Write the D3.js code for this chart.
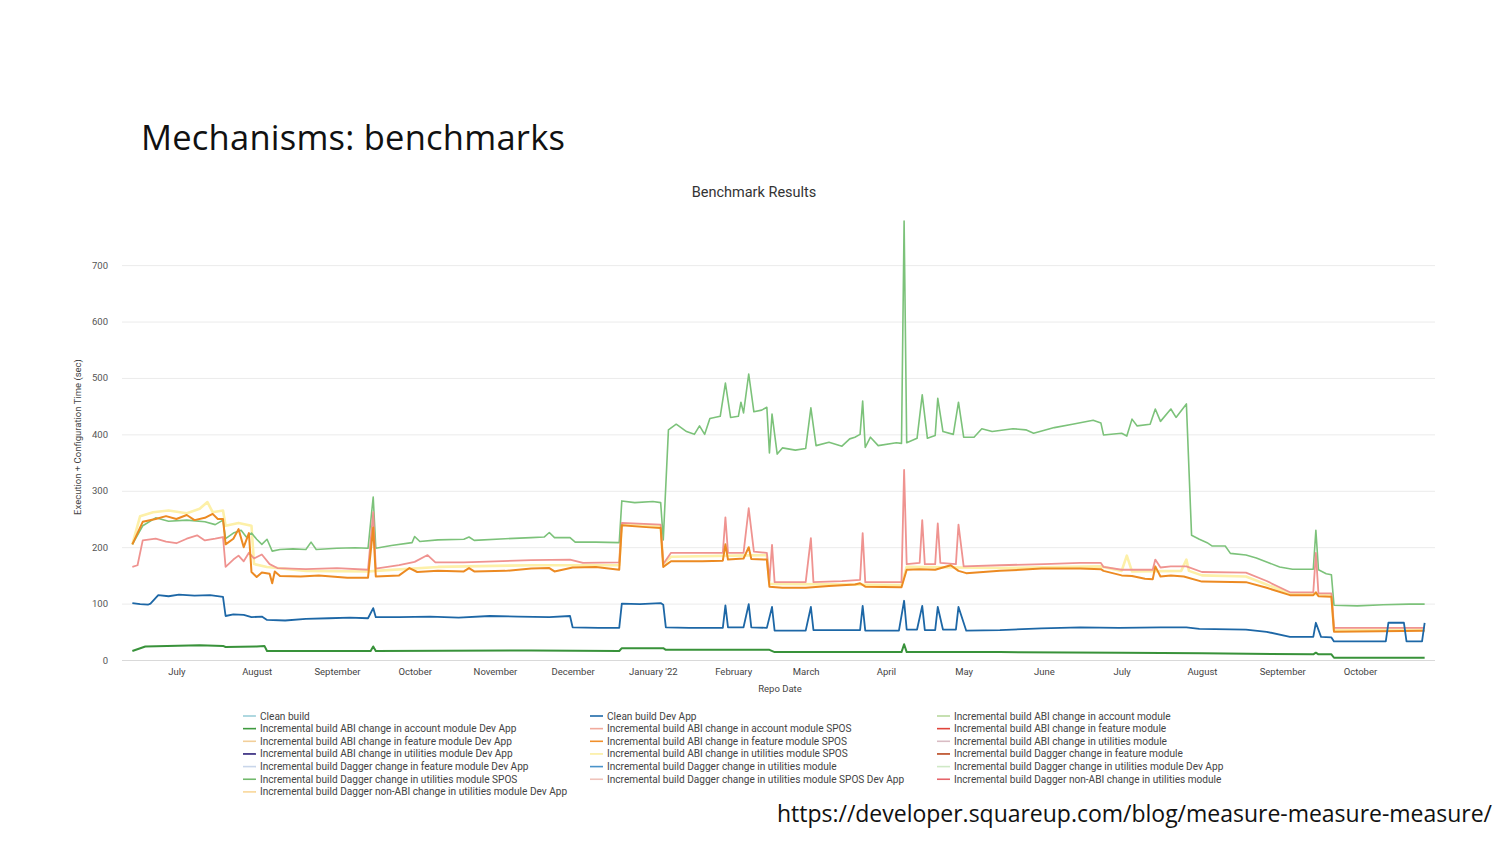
<!DOCTYPE html>
<html><head><meta charset="utf-8">
<script src="https://cdn.jsdelivr.net/npm/d3@7/dist/d3.min.js"></script>
<style>
html,body{margin:0;padding:0;background:#fff;}
svg{display:block;}
</style></head>
<body>
<svg id="chart" width="1500" height="844"></svg>
<script>
// ---------- DATA ----------
const slideTitle = "Mechanisms: benchmarks";
const chartTitle = "Benchmark Results";
const yAxisLabel = "Execution + Configuration Time (sec)";
const xAxisLabel = "Repo Date";
const sourceUrl = "https://developer.squareup.com/blog/measure-measure-measure/";
const yTicks = [0, 100, 200, 300, 400, 500, 600, 700];
const xTickDates = ["2021-07-01","2021-08-01","2021-09-01","2021-10-01","2021-11-01","2021-12-01",
  "2022-01-01","2022-02-01","2022-03-01","2022-04-01","2022-05-01","2022-06-01","2022-07-01",
  "2022-08-01","2022-09-01","2022-10-01"];
const xTickLabels = ["July","August","September","October","November","December","January '22",
  "February","March","April","May","June","July","August","September","October"];

const legendNames = [
  "Clean build",
  "Incremental build ABI change in account module Dev App",
  "Incremental build ABI change in feature module Dev App",
  "Incremental build ABI change in utilities module Dev App",
  "Incremental build Dagger change in feature module Dev App",
  "Incremental build Dagger change in utilities module SPOS",
  "Incremental build Dagger non-ABI change in utilities module Dev App",
  "Clean build Dev App",
  "Incremental build ABI change in account module SPOS",
  "Incremental build ABI change in feature module SPOS",
  "Incremental build ABI change in utilities module SPOS",
  "Incremental build Dagger change in utilities module",
  "Incremental build Dagger change in utilities module SPOS Dev App",
  "Incremental build ABI change in account module",
  "Incremental build ABI change in feature module",
  "Incremental build ABI change in utilities module",
  "Incremental build Dagger change in feature module",
  "Incremental build Dagger change in utilities module Dev App",
  "Incremental build Dagger non-ABI change in utilities module"
];
const legendColors = [
  "#9ccfd9","#3f9a3f","#f2cf9a","#2b1f78","#c9d6ea","#72b96c","#f9d79a",
  "#1f6aa8","#f1aa9c","#f08f2a","#fbeea0","#4a93c9","#efc3bb",
  "#b8d99e","#e0443a","#d9bcc4","#b9461d","#cfe9c6","#e5646a"
];

// series values: [date, seconds]
const daggerUtilSPOS = [
["2021-06-14",205],["2021-06-18",238],["2021-06-23",252],["2021-06-28",246],["2021-07-05",248],["2021-07-12",245],
["2021-07-16",240],["2021-07-19",248],["2021-07-20",215],["2021-07-23",225],["2021-07-26",230],["2021-07-28",218],
["2021-07-30",225],["2021-08-01",214],["2021-08-03",205],["2021-08-05",214],["2021-08-07",193],["2021-08-10",196],
["2021-08-15",197],["2021-08-20",196],["2021-08-22",209],["2021-08-24",196],["2021-09-01",198],["2021-09-08",199],
["2021-09-13",198],["2021-09-15",289],["2021-09-16",198],["2021-09-22",203],["2021-09-30",208],["2021-10-01",219],
["2021-10-03",210],["2021-10-10",213],["2021-10-20",214],["2021-10-22",218],["2021-10-24",212],["2021-11-05",215],
["2021-11-15",217],["2021-11-20",218],["2021-11-22",226],["2021-11-24",217],["2021-11-30",217],["2021-12-02",209],
["2021-12-10",209],["2021-12-19",208],["2021-12-20",282],["2021-12-25",279],["2022-01-01",281],["2022-01-04",279],
["2022-01-05",213],["2022-01-07",408],["2022-01-10",418],["2022-01-14",405],["2022-01-17",400],["2022-01-19",415],
["2022-01-21",400],["2022-01-23",428],["2022-01-27",432],["2022-01-29",491],["2022-01-31",430],["2022-02-03",432],
["2022-02-04",457],["2022-02-05",438],["2022-02-07",507],["2022-02-09",440],["2022-02-12",443],["2022-02-14",448],
["2022-02-15",367],["2022-02-16",436],["2022-02-18",365],["2022-02-20",376],["2022-02-25",372],["2022-03-01",375],
["2022-03-03",447],["2022-03-05",380],["2022-03-10",386],["2022-03-15",379],["2022-03-18",392],["2022-03-20",395],
["2022-03-22",400],["2022-03-23",459],["2022-03-24",377],["2022-03-26",395],["2022-03-29",380],["2022-04-05",385],
["2022-04-07",384],["2022-04-08",778],["2022-04-09",385],["2022-04-13",393],["2022-04-15",470],["2022-04-17",393],
["2022-04-20",398],["2022-04-21",464],["2022-04-23",405],["2022-04-27",400],["2022-04-29",457],["2022-05-01",395],
["2022-05-05",395],["2022-05-08",410],["2022-05-12",405],["2022-05-20",410],["2022-05-25",408],["2022-05-28",402],
["2022-06-05",412],["2022-06-12",418],["2022-06-20",425],["2022-06-23",420],["2022-06-24",399],["2022-07-01",402],
["2022-07-03",397],["2022-07-05",427],["2022-07-07",415],["2022-07-12",418],["2022-07-14",445],["2022-07-16",423],
["2022-07-20",445],["2022-07-22",430],["2022-07-26",454],["2022-07-28",221],["2022-07-31",214],["2022-08-03",208],
["2022-08-05",202],["2022-08-10",202],["2022-08-12",189],["2022-08-18",186],["2022-08-22",181],["2022-08-27",172],
["2022-08-31",165],["2022-09-05",161],["2022-09-13",161],["2022-09-14",230],["2022-09-15",160],["2022-09-18",153],
["2022-09-20",151],["2022-09-21",97],["2022-09-30",96],["2022-10-10",98],["2022-10-20",99],["2022-10-26",99]];

const abiUtilSPOS = [
["2021-06-14",205],["2021-06-17",255],["2021-06-22",262],["2021-06-28",265],["2021-07-05",260],["2021-07-10",268],
["2021-07-13",280],["2021-07-15",262],["2021-07-19",265],["2021-07-20",238],["2021-07-25",243],["2021-07-30",238],
["2021-07-31",170],["2021-08-05",165],["2021-08-20",158],["2021-09-13",157],["2021-09-16",158],["2021-10-10",165],
["2021-11-15",168],["2021-12-19",168],["2021-12-20",241],["2022-01-04",238],["2022-01-05",170],["2022-01-08",183],
["2022-02-14",186],["2022-02-15",135],["2022-04-07",133],["2022-04-09",165],["2022-05-15",163],["2022-06-23",166],
["2022-07-01",158],["2022-07-03",185],["2022-07-05",157],["2022-07-24",158],["2022-07-26",178],["2022-07-27",158],
["2022-08-01",150],["2022-08-18",148],["2022-09-04",118],["2022-09-20",116],["2022-09-21",53],["2022-10-26",54]];

const abiAccountSPOS = [
["2021-06-14",165],["2021-06-16",168],["2021-06-18",212],["2021-06-23",215],["2021-06-27",210],["2021-07-01",207],
["2021-07-05",215],["2021-07-09",221],["2021-07-12",212],["2021-07-16",215],["2021-07-19",218],["2021-07-20",165],
["2021-07-23",178],["2021-07-25",185],["2021-07-27",175],["2021-07-29",190],["2021-07-31",180],["2021-08-03",187],
["2021-08-06",170],["2021-08-09",163],["2021-08-20",161],["2021-09-01",163],["2021-09-13",160],["2021-09-15",262],
["2021-09-16",162],["2021-09-25",168],["2021-10-01",174],["2021-10-06",186],["2021-10-09",173],["2021-10-20",173],
["2021-11-01",175],["2021-11-15",177],["2021-11-30",178],["2021-12-05",172],["2021-12-19",173],["2021-12-20",243],
["2022-01-04",240],["2022-01-05",170],["2022-01-08",190],["2022-01-20",190],["2022-01-28",190],["2022-01-29",253],
["2022-01-30",190],["2022-02-05",190],["2022-02-07",269],["2022-02-09",192],["2022-02-14",190],["2022-02-15",140],
["2022-02-16",204],["2022-02-17",138],["2022-03-01",138],["2022-03-03",216],["2022-03-04",138],["2022-03-15",140],
["2022-03-22",142],["2022-03-23",225],["2022-03-24",138],["2022-04-07",138],["2022-04-08",337],["2022-04-09",170],
["2022-04-14",172],["2022-04-15",248],["2022-04-16",170],["2022-04-20",170],["2022-04-21",242],["2022-04-22",172],
["2022-04-28",170],["2022-04-29",240],["2022-05-01",166],["2022-05-15",168],["2022-06-01",170],["2022-06-15",172],
["2022-06-23",172],["2022-06-24",165],["2022-07-01",160],["2022-07-13",160],["2022-07-14",178],["2022-07-16",164],
["2022-07-20",166],["2022-07-26",166],["2022-08-01",156],["2022-08-18",155],["2022-08-26",140],["2022-09-04",120],
["2022-09-13",120],["2022-09-14",190],["2022-09-15",118],["2022-09-20",118],["2022-09-21",57],["2022-10-26",57]];

const abiFeatureSPOS = [
["2021-06-14",205],["2021-06-18",245],["2021-06-23",250],["2021-06-27",255],["2021-07-01",250],["2021-07-05",257],
["2021-07-08",248],["2021-07-12",252],["2021-07-15",259],["2021-07-17",250],["2021-07-19",250],["2021-07-20",205],
["2021-07-23",215],["2021-07-25",232],["2021-07-27",200],["2021-07-29",225],["2021-07-30",156],["2021-08-01",147],
["2021-08-03",155],["2021-08-06",153],["2021-08-07",136],["2021-08-08",157],["2021-08-10",149],["2021-08-18",148],
["2021-08-25",150],["2021-09-05",146],["2021-09-13",146],["2021-09-15",235],["2021-09-16",148],["2021-09-25",150],
["2021-09-29",163],["2021-10-02",156],["2021-10-10",158],["2021-10-20",157],["2021-10-22",163],["2021-10-24",157],
["2021-11-05",158],["2021-11-15",162],["2021-11-22",163],["2021-11-24",157],["2021-12-01",164],["2021-12-10",165],
["2021-12-19",160],["2021-12-20",239],["2021-12-28",236],["2022-01-04",234],["2022-01-05",165],["2022-01-08",175],
["2022-01-20",175],["2022-01-28",176],["2022-01-29",205],["2022-01-30",178],["2022-02-05",180],["2022-02-07",200],
["2022-02-08",179],["2022-02-14",178],["2022-02-15",130],["2022-02-20",128],["2022-03-01",128],["2022-03-10",131],
["2022-03-20",134],["2022-03-22",136],["2022-03-24",130],["2022-04-07",129],["2022-04-09",160],["2022-04-14",161],
["2022-04-20",160],["2022-04-26",168],["2022-04-29",158],["2022-05-02",154],["2022-05-15",158],["2022-05-31",162],
["2022-06-15",162],["2022-06-23",161],["2022-06-24",158],["2022-07-01",150],["2022-07-05",149],["2022-07-10",144],
["2022-07-13",143],["2022-07-14",166],["2022-07-16",148],["2022-07-20",150],["2022-07-25",148],["2022-08-01",139],
["2022-08-18",138],["2022-08-26",128],["2022-09-04",115],["2022-09-13",115],["2022-09-14",120],["2022-09-15",113],
["2022-09-20",112],["2022-09-21",50],["2022-10-26",52]];

const cleanBuildDevApp = [
["2021-06-14",101],["2021-06-17",99],["2021-06-20",98],["2021-06-21",100],["2021-06-24",115],["2021-06-28",113],
["2021-07-02",116],["2021-07-08",114],["2021-07-14",115],["2021-07-19",112],["2021-07-20",78],["2021-07-23",81],
["2021-07-27",80],["2021-07-30",76],["2021-08-03",77],["2021-08-05",71],["2021-08-12",70],["2021-08-20",73],
["2021-08-29",74],["2021-09-06",75],["2021-09-13",74],["2021-09-15",92],["2021-09-16",76],["2021-09-25",76],
["2021-10-07",77],["2021-10-18",75],["2021-10-30",78],["2021-11-10",77],["2021-11-22",76],["2021-11-30",78],
["2021-12-01",58],["2021-12-11",57],["2021-12-19",57],["2021-12-20",100],["2021-12-27",99],["2022-01-04",101],
["2022-01-05",98],["2022-01-06",58],["2022-01-15",57],["2022-01-28",57],["2022-01-29",97],["2022-01-30",58],
["2022-02-05",58],["2022-02-07",99],["2022-02-08",58],["2022-02-14",57],["2022-02-16",94],["2022-02-17",52],
["2022-03-01",52],["2022-03-03",94],["2022-03-04",53],["2022-03-22",53],["2022-03-23",96],["2022-03-24",52],
["2022-04-06",52],["2022-04-08",105],["2022-04-09",54],["2022-04-13",54],["2022-04-15",96],["2022-04-16",53],
["2022-04-20",53],["2022-04-21",94],["2022-04-23",54],["2022-04-28",54],["2022-04-29",94],["2022-05-02",52],
["2022-05-15",53],["2022-05-31",56],["2022-06-15",58],["2022-06-30",57],["2022-07-16",58],["2022-07-26",58],
["2022-07-31",55],["2022-08-18",54],["2022-08-26",50],["2022-09-04",41],["2022-09-13",41],["2022-09-14",66],
["2022-09-16",41],["2022-09-20",40],["2022-09-21",33],["2022-10-11",33],["2022-10-12",66],["2022-10-18",66],
["2022-10-19",33],["2022-10-25",33],["2022-10-26",66]];

const abiAccountDevApp = [
["2021-06-14",16],["2021-06-19",24],["2021-07-10",26],["2021-07-19",25],["2021-07-20",23],["2021-08-01",24],
["2021-08-04",25],["2021-08-05",16],["2021-09-14",16],["2021-09-15",24],["2021-09-16",16],["2021-11-15",17],
["2021-12-19",16],["2021-12-20",21],["2022-01-05",21],["2022-01-06",18],["2022-02-15",18],["2022-02-17",14],
["2022-04-07",14],["2022-04-08",28],["2022-04-09",14],["2022-05-15",14],["2022-07-01",13],["2022-08-01",12],
["2022-09-13",10],["2022-09-14",13],["2022-09-15",10],["2022-09-20",10],["2022-09-21",4],["2022-10-26",4]];

// which legend entry each drawn series belongs to, draw order, and stroke width
const drawn = [
  {name: "Incremental build ABI change in utilities module SPOS", values: abiUtilSPOS, w: 2.6},
  {name: "Incremental build Dagger change in utilities module SPOS", values: daggerUtilSPOS, w: 1.6},
  {name: "Incremental build ABI change in account module SPOS", values: abiAccountSPOS, w: 1.8},
  {name: "Incremental build ABI change in feature module SPOS", values: abiFeatureSPOS, w: 2.0},
  {name: "Clean build Dev App", values: cleanBuildDevApp, w: 1.8},
  {name: "Incremental build ABI change in account module Dev App", values: abiAccountDevApp, w: 2.0}
];
const lineColors = {
  "Incremental build ABI change in utilities module SPOS": "#fdf0a8",
  "Incremental build Dagger change in utilities module SPOS": "#7cc27a",
  "Incremental build ABI change in account module SPOS": "#ef9390",
  "Incremental build ABI change in feature module SPOS": "#ec8a22",
  "Clean build Dev App": "#1d67a6",
  "Incremental build ABI change in account module Dev App": "#38923a"
};

// ---------- CHART ----------
const svg = d3.select("#chart");
const parse = d3.timeParse("%Y-%m-%d");
const font = "Roboto, 'Open Sans', sans-serif";

const x = d3.scaleTime()
  .domain([parse("2021-06-10"), parse("2022-10-30")])
  .range([122, 1435]);
const y = d3.scaleLinear().domain([0, 780]).range([660, 220]);

svg.append("text").attr("x", 141).attr("y", 150)
  .attr("font-family", "'Open Sans', sans-serif").attr("font-size", 34.5)
  .attr("fill", "#111").attr("textLength", 424).attr("lengthAdjust", "spacing").text(slideTitle);

svg.append("text").attr("x", 754).attr("y", 197).attr("text-anchor", "middle")
  .attr("font-family", font).attr("font-size", 14.5).attr("fill", "#333").text(chartTitle);

// grid + y axis
const yAxis = d3.axisLeft(y).tickValues(yTicks).tickSize(-(1435 - 122)).tickPadding(14);
const gy = svg.append("g").attr("transform", "translate(122,0)").call(yAxis);
gy.select(".domain").remove();
gy.selectAll(".tick line").attr("stroke", "#ebebeb").attr("stroke-width", 1);
gy.selectAll(".tick").filter(d => d === 0).select("line").attr("stroke", "#d9d9d9").attr("stroke-width", 1.2);
gy.selectAll(".tick text").attr("font-family", font).attr("font-size", 9.5).attr("fill", "#555");

// x axis
const xAxis = d3.axisBottom(x)
  .tickValues(xTickDates.map(parse))
  .tickFormat((d, i) => xTickLabels[i])
  .tickSize(0).tickPadding(8);
const gx = svg.append("g").attr("transform", "translate(0,660)").call(xAxis);
gx.select(".domain").remove();
gx.selectAll(".tick text").attr("font-family", font).attr("font-size", 9.5).attr("fill", "#444");

svg.append("text").attr("x", 780).attr("y", 692).attr("text-anchor", "middle")
  .attr("font-family", font).attr("font-size", 9.5).attr("fill", "#444").text(xAxisLabel);

svg.append("text").attr("transform", "translate(81,437) rotate(-90)").attr("text-anchor", "middle")
  .attr("font-family", font).attr("font-size", 9.5).attr("fill", "#444").text(yAxisLabel);

// lines
const line = d3.line().x(d => x(parse(d[0]))).y(d => y(d[1])).curve(d3.curveLinear);
svg.append("g").selectAll("path").data(drawn).join("path")
  .attr("d", d => line(d.values))
  .attr("fill", "none")
  .attr("stroke", d => lineColors[d.name])
  .attr("stroke-width", d => d.w)
  .attr("stroke-linejoin", "round");

// legend
const colX = [243, 590, 937];
const rowsPerCol = [7, 6, 6];
const lg = svg.append("g");
let idx = 0;
rowsPerCol.forEach((n, c) => {
  for (let r = 0; r < n; r++, idx++) {
    const yy = 716 + r * 12.65;
    const g = lg.append("g").attr("transform", `translate(${colX[c]},${yy})`);
    g.append("line").attr("x1", 0).attr("x2", 13).attr("y1", 0).attr("y2", 0)
      .attr("stroke", legendColors[idx]).attr("stroke-width", 1.6);
    g.append("text").attr("x", 17).attr("y", 3.5)
      .attr("font-family", font).attr("font-size", 10.1).attr("fill", "#444")
      .text(legendNames[idx]);
  }
});

svg.append("text").attr("x", 777).attr("y", 822)
  .attr("font-family", "'Open Sans', sans-serif").attr("font-size", 23)
  .attr("fill", "#111").attr("textLength", 715).attr("lengthAdjust", "spacing").text(sourceUrl);
</script>
</body></html>
